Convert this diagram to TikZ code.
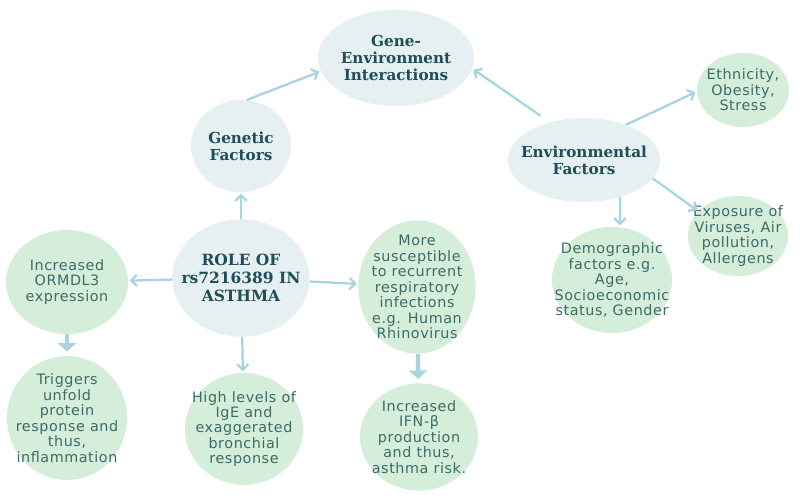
\documentclass[tikz,border=0pt]{standalone}
\usepackage{fontspec}
\usetikzlibrary{shapes.geometric,arrows.meta}
\newfontfamily\headfont{DejaVu Serif}
\newfontfamily\bodyfont[LetterSpace=4]{DejaVu Sans}
\definecolor{bluefill}{HTML}{E6EFF2}
\definecolor{greenfill}{HTML}{D4EEDA}
\definecolor{headcol}{HTML}{1E4E59}
\definecolor{bodycol}{HTML}{3C6B68}
\definecolor{arrowcol}{HTML}{A8D4E2}
\begin{document}
\begin{tikzpicture}[x=0.025cm, y=-0.025cm,
    bluebub/.style={ellipse, fill=bluefill, inner sep=-6mm, text=headcol, align=center,
        font=\headfont\bfseries\fontsize{10.8}{12}\selectfont},
    greenbub/.style={ellipse, fill=greenfill, inner sep=-6mm, text=bodycol, align=center,
        font=\bodyfont\fontsize{10.2}{11}\selectfont},
    link/.style={draw=arrowcol, line width=1.6pt, -{Straight Barb[length=4pt,width=8pt]}, shorten >=1pt},
    bigstep/.style={draw=arrowcol, line width=3pt, -{Triangle[length=6pt,width=13pt]}, shorten >=3pt}]
        \fill[white] (0,0) rectangle (800,503);

        % Blue bubbles
        \node[bluebub, minimum width=3.9cm, minimum height=2.4cm] (gene) at (396,58) {Gene-\\Environment\\Interactions};
        \node[bluebub, minimum width=2.5cm, minimum height=2.3cm] (genetic) at (241,146) {Genetic\\Factors};
        \node[bluebub, minimum width=3.8cm, minimum height=2.1cm] (envf) at (584,160) {Environmental\\Factors};
        \node[bluebub, minimum width=3.43cm, minimum height=2.93cm,
            font=\headfont\bfseries\fontsize{11}{13}\selectfont] (role) at (241,278) {ROLE OF\\rs7216389 IN\\ASTHMA};

        % Green bubbles
        \node[greenbub, minimum width=2.3cm, minimum height=1.85cm] (ethn) at (743,90) {Ethnicity,\\Obesity,\\Stress};
        \node[greenbub, minimum width=2.5cm, minimum height=2cm] (expo) at (738,236) {Exposure of\\Viruses, Air\\pollution,\\Allergens};
        \node[greenbub, minimum width=3cm, minimum height=2.65cm] (demo) at (612,280) {Demographic\\factors e.g.\\Age,\\Socioeconomic\\status, Gender};
        \node[greenbub, minimum width=3.05cm, minimum height=2.6cm] (ormdl) at (67,282) {Increased\\ORMDL3\\expression};
        \node[greenbub, minimum width=2.93cm, minimum height=3.33cm] (susc) at (417,287) {More\\susceptible\\to recurrent\\respiratory\\infections\\e.g. Human\\Rhinovirus};
        \node[greenbub, minimum width=3cm, minimum height=3.1cm] (trig) at (67,418) {Triggers\\unfold\\protein\\response and\\thus,\\inflammation};
        \node[greenbub, minimum width=2.95cm, minimum height=2.8cm] (ige) at (244,429) {High levels of\\IgE and\\exaggerated\\bronchial\\response};
        \node[greenbub, minimum width=2.95cm, minimum height=2.68cm] (ifn) at (419,437) {Increased\\IFN-β\\production\\and thus,\\asthma risk.};

        % Arrows
        \draw[link] (role) -- (genetic);
        \draw[link] (genetic.83) -- (gene.190);
        \draw[link, shorten <=8pt] (envf.132) -- (gene.352);
        \draw[link] (envf.40) -- (ethn.182);
        \draw[link] (envf.345) -- (expo.148);
        \draw[link] (envf.314) -- (envf.314 |- demo.north);
        \draw[link] (role) -- (ormdl);
        \draw[link] (role) -- (susc);
        \draw[link] (role) -- (ige);
        \draw[bigstep] (ormdl) -- (trig);
        \draw[bigstep] (susc) -- (ifn);
    \end{tikzpicture}
\end{document}
